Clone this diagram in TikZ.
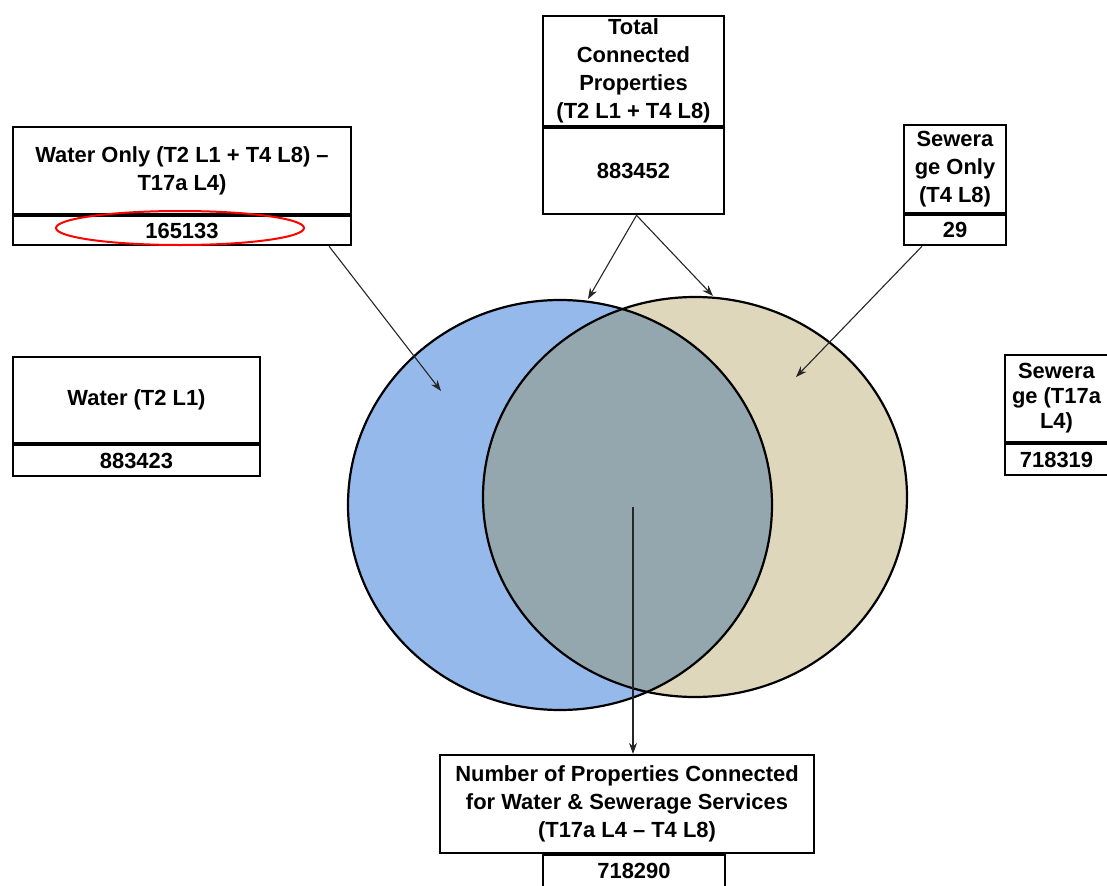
\documentclass[tikz,border=0pt]{standalone}
\usepackage{fontspec}
\setmainfont{Liberation Sans}
\usetikzlibrary{arrows.meta,calc}

\definecolor{wblue}{RGB}{150,185,236}
\definecolor{sbeige}{RGB}{222,215,188}
\definecolor{wsgrey}{RGB}{148,166,174}

\tikzset{
	lbl/.style={draw, line width=2.2bp, align=center, inner sep=0pt, font=\fontsize{22}{28}\selectfont\bfseries},
	num/.style={lbl, anchor=north},
	pto/.style={-{Stealth[length=11bp,width=8bp]}, line width=1.1bp, black!85},
}

\begin{document}
\begin{tikzpicture}[x=1bp,y=-1bp]
	\useasboundingbox (0,0) rectangle (1107,886);
	%
	\fill[wblue] (560,505) ellipse[x radius=212bp, y radius=205bp];
	\fill[sbeige] (695,497) ellipse[x radius=212bp, y radius=200bp];
	\begin{scope}
		\clip (560,505) ellipse[x radius=212bp, y radius=205bp];
		\fill[wsgrey] (695,497) ellipse[x radius=212bp, y radius=200bp];
	\end{scope}
	\draw[line width=2.2bp] (560,505) ellipse[x radius=212bp, y radius=205bp];
	\draw[line width=2.2bp] (695,497) ellipse[x radius=212bp, y radius=200bp];
	%
	\node[lbl, minimum width=181bp, minimum height=110bp] (tot) at (633.5,71) {Total\\Connected\\Properties\\(T2 L1 + T4 L8)};
	\node[num, minimum width=181bp, minimum height=86bp] (totn) at (tot.south) {883452};
	%
	\node[lbl, minimum width=338bp, minimum height=87bp] (wonly) at (182,170.5) {Water Only (T2 L1 + T4 L8) --\\T17a L4)};
	\node[num, minimum width=338bp, minimum height=29bp] (wonlyn) at (wonly.south) {165133};
	\draw[red, line width=2bp] (180,228) ellipse[x radius=124bp, y radius=17bp];
	%
	\node[lbl, minimum width=102bp, minimum height=88bp] (sonly) at (955,169) {Sewera\\ge Only\\(T4 L8)};
	\node[num, minimum width=102bp, minimum height=30bp] (sonlyn) at (sonly.south) {29};
	%
	\node[lbl, minimum width=247bp, minimum height=86bp] (water) at (136.5,400) {Water (T2 L1)};
	\node[num, minimum width=247bp, minimum height=31bp] (watern) at (water.south) {883423};
	%
	\node[lbl, minimum width=103bp, minimum height=87bp, font=\fontsize{22}{25}\selectfont\bfseries] (sew) at (1056.5,398.5) {Sewera\\ge (T17a\\L4)};
	\node[num, minimum width=103bp, minimum height=31bp] (sewn) at (sew.south) {718319};
	%
	\node[lbl, minimum width=374bp, minimum height=98bp] (conn) at (627,804) {Number of Properties Connected\\for Water \& Sewerage Services\\(T17a L4 -- T4 L8)};
	\node[num, minimum width=182bp, minimum height=32bp] (connn) at ([xshift=7bp]conn.south) {718290};
	%
	\coordinate (wtip) at (441,391);
	\coordinate (stip) at (796,377);
	\coordinate (ltip) at (588,299);
	\coordinate (rtip) at (713,296);
	\coordinate (ctr) at (633,507);
	\draw[pto] ([xshift=-23bp]wonlyn.south east) -- (wtip);
	\draw[pto] ([xshift=3bp]totn.south) -- (ltip);
	\draw[pto] ([xshift=3bp]totn.south) -- (rtip);
	\draw[pto] ([xshift=-33bp]sonlyn.south) -- (stip);
	\draw[pto] (ctr) -- (ctr |- conn.north);
\end{tikzpicture}
\end{document}
